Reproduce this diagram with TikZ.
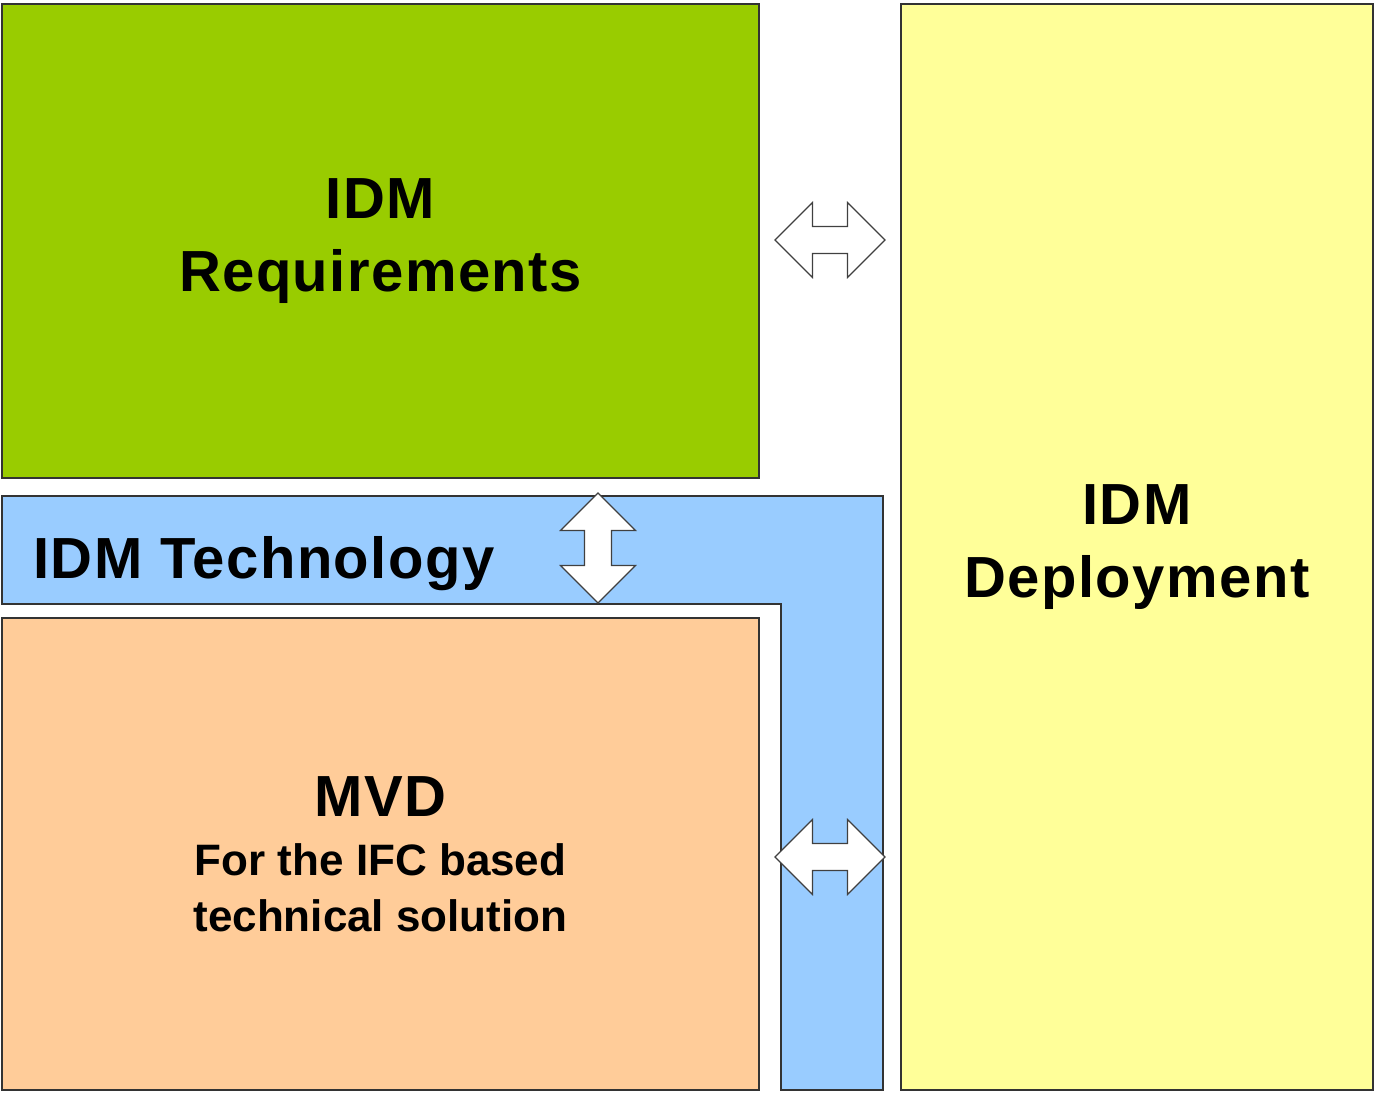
\documentclass[tikz,border=0pt]{standalone}
\usepackage{fontspec}
\setmainfont{Liberation Sans}
\usetikzlibrary{positioning}

\definecolor{reqgreen}{HTML}{99CC00}
\definecolor{depyellow}{HTML}{FFFF99}
\definecolor{techblue}{HTML}{99CCFF}
\definecolor{mvdorange}{HTML}{FFCC99}

\newcommand{\bigtitle}{\bfseries\fontsize{29}{36.5}\selectfont\addfontfeature{LetterSpace=2.5}}
\newcommand{\smalltitle}{\fontsize{22}{28}\selectfont\addfontfeature{LetterSpace=0}}

\tikzset{
  box/.style={draw=black!80, line width=1pt, inner sep=0pt, align=center,
    font=\bigtitle},
  dblarrow/.pic={
    \draw [draw=black!75, fill=white, line width=0.6pt, line join=miter]
      (-55,0) -- (-17.5,-37.5) -- (-17.5,-13.5) -- (17.5,-13.5) -- (17.5,-37.5)
      -- (55,0) -- (17.5,37.5) -- (17.5,13.5) -- (-17.5,13.5) -- (-17.5,37.5) -- cycle;
  }
}

\begin{document}
\begin{tikzpicture}[x=0.5pt, y=-0.5pt]
    \useasboundingbox (0,0) rectangle (1375,1092);
    % boxes
    \node [box, fill=reqgreen, minimum width=757*0.5pt, minimum height=474*0.5pt]
      (req) at (380.5,241) {IDM\\Requirements};
    \node [box, fill=depyellow, minimum width=472*0.5pt, minimum height=1086*0.5pt]
      (dep) at (1137,547) {IDM\\Deployment};
    \draw [draw=black!80, line width=1pt, fill=techblue]
      (2,496) -- (883,496) -- (883,1090) -- (781,1090) -- (781,604) -- (2,604) -- cycle;
    \node [anchor=base west, inner sep=0pt, font=\bigtitle]
      (tech) at (33,578) {IDM Technology};
    \node [box, fill=mvdorange, minimum width=757*0.5pt, minimum height=472*0.5pt]
      (mvd) at (380.5,854) {MVD\\[-7pt]{\smalltitle For the IFC based}\\[-8.5pt]
      {\smalltitle technical solution}};
    % arrows
    \pic at (830,240) {dblarrow};
    \pic [rotate=90] at (598,548) {dblarrow};
    \pic at (830,857) {dblarrow};
\end{tikzpicture}
\end{document}
